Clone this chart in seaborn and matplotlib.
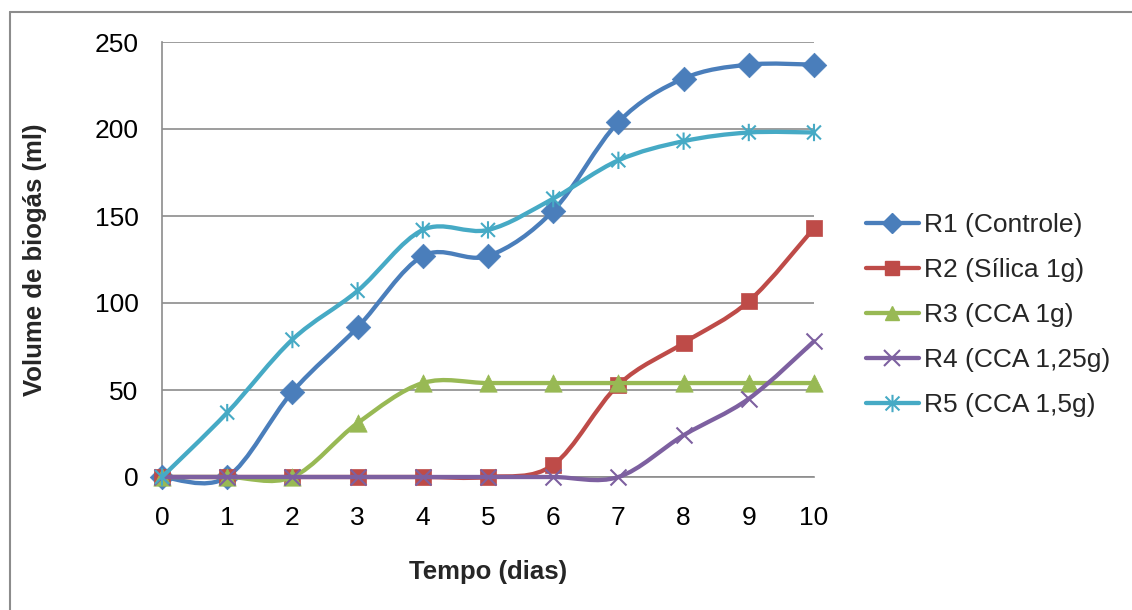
import numpy as np
import pandas as pd
import matplotlib
matplotlib.use("Agg")
import matplotlib.pyplot as plt
from matplotlib.path import Path
from matplotlib.patches import PathPatch
from matplotlib.lines import Line2D
import seaborn as sns

# ---- data ----
days = [0, 1, 2, 3, 4, 5, 6, 7, 8, 9, 10]
r1 = [0, 0, 49, 86, 127, 127, 153, 204, 229, 237, 237]
r2 = [0, 0, 0, 0, 0, 0, 7, 53, 77, 101, 143]
r3 = [0, 0, 0, 31, 54, 54, 54, 54, 54, 54, 54]
r4 = [0, 0, 0, 0, 0, 0, 0, 0, 24, 45, 78]
r5 = [0, 37, 79, 107, 142, 142, 160, 182, 193, 198, 198]
labels = ["R1 (Controle)", "R2 (Sílica 1g)", "R3 (CCA 1g)", "R4 (CCA 1,25g)", "R5 (CCA 1,5g)"]
y_ticks = [0, 50, 100, 150, 200, 250]
x_ticks = days

sns.set_theme(style="white")
plt.rcParams["font.family"] = ["Liberation Sans", "DejaVu Sans"]

colors = ["#4A7EBB", "#BE4B48", "#98B954", "#7D60A0", "#46AAC5"]
asterisk = Path([(-1, -1), (1, 1), (-1, 1), (1, -1), (0, -1.25), (0, 1.25)],
                [Path.MOVETO, Path.LINETO, Path.MOVETO, Path.LINETO, Path.MOVETO, Path.LINETO])
markers = ["D", "s", "^", "x", asterisk]
msizes = [12.5, 11.5, 12.5, 11.5, 12.5]
LW = 3.1

W, H = 1132, 610
fig = plt.figure(figsize=(W / 100, H / 100), dpi=100)
fig.patch.set_facecolor("white")
ax = fig.add_axes([162 / W, 1 - 477 / H, (814 - 162) / W, (477 - 42) / H])
ax.set_xlim(0, 10)
ax.set_ylim(0, 250)


def smooth_path(xs, ys):
    pts = np.column_stack([xs, ys]).astype(float)
    n = len(pts)
    verts = [pts[0]]
    codes = [Path.MOVETO]
    for i in range(n - 1):
        p0 = pts[i - 1] if i > 0 else pts[i]
        p1 = pts[i]
        p2 = pts[i + 1]
        p3 = pts[i + 2] if i + 2 < n else pts[i + 1]
        c1 = p1 + (p2 - p0) / 6.0
        c2 = p2 - (p3 - p1) / 6.0
        verts += [c1, c2, p2]
        codes += [Path.CURVE4] * 3
    return Path(verts, codes)


series = [r1, r2, r3, r4, r5]
for k, (vals, lab, c, m, ms) in enumerate(zip(series, labels, colors, markers, msizes)):
    patch = PathPatch(smooth_path(days, vals), facecolor="none", edgecolor=c,
                      lw=LW, capstyle="round", joinstyle="round", zorder=3 + 2 * k,
                      clip_on=False)
    ax.add_patch(patch)
    df = pd.DataFrame({"x": days, "y": vals})
    if isinstance(m, Path):
        sns.scatterplot(data=df, x="x", y="y", marker=m, s=ms ** 2, facecolor="none",
                        edgecolor=c, linewidth=1.5, ax=ax, zorder=4 + 2 * k,
                        clip_on=False)
    elif m == "x":
        sns.scatterplot(data=df, x="x", y="y", marker=m, s=ms ** 2, color=c,
                        linewidth=1.5, ax=ax, zorder=4 + 2 * k, clip_on=False)
    else:
        sns.scatterplot(data=df, x="x", y="y", marker=m, s=ms ** 2, color=c,
                        edgecolor=c, linewidth=0.5, ax=ax, zorder=4 + 2 * k, clip_on=False)

ax.set_xticks(x_ticks)
ax.set_yticks(y_ticks)
ax.tick_params(axis="both", length=0, labelsize=19, colors="black")
ax.tick_params(axis="y", pad=17)
ax.tick_params(axis="x", pad=21)
ax.yaxis.grid(True, color="#8C8C8C", lw=1.2)
ax.xaxis.grid(False)
ax.set_axisbelow(True)
for s in ["top", "right"]:
    ax.spines[s].set_visible(False)
for s in ["left", "bottom"]:
    ax.spines[s].set_color("#8C8C8C")
    ax.spines[s].set_linewidth(1.2)
ax.set_xlabel("")
ax.set_ylabel("")

fig.text(488 / W, 1 - 572 / H, "Tempo (dias)", ha="center", va="center",
         fontsize=18.5, fontweight="bold")
fig.text(35 / W, 1 - 260 / H, "Volume de biogás (ml)", ha="center", va="center",
         rotation=90, fontsize=18.5, fontweight="bold")

handles = []
for c, m, ms in zip(colors, markers, msizes):
    if m == "x" or isinstance(m, Path):
        h = Line2D([], [], color=c, lw=LW, marker=m, markersize=ms, markeredgewidth=1.5,
                   markeredgecolor=c)
    else:
        h = Line2D([], [], color=c, lw=LW, marker=m, markersize=ms * 0.85,
                   markerfacecolor=c, markeredgecolor=c)
    handles.append(h)
leg = fig.legend(handles, labels, loc="center left", bbox_to_anchor=(866 / W, 1 - 315 / H),
                 frameon=False, fontsize=19, handlelength=2.0, handletextpad=0.2,
                 labelspacing=0.8, borderpad=0, borderaxespad=0)

# outer chart border (left and top visible)
fig.add_artist(Line2D([9.5 / W, 9.5 / W], [0, 1 - 12 / H], transform=fig.transFigure,
                      color="#8C8C8C", lw=1.5))
fig.add_artist(Line2D([9.5 / W, 1], [1 - 12 / H, 1 - 12 / H], transform=fig.transFigure,
                      color="#8C8C8C", lw=1.5))

fig.savefig("out.png", dpi=100, facecolor="white")
